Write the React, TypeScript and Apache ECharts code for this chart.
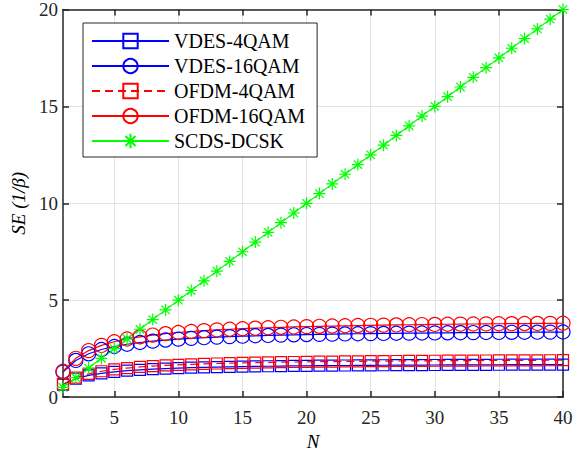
import React, { useEffect, useRef } from "react";
import * as echarts from "echarts";

const N = Array.from({ length: 40 }, (_, i) => i + 1);

const vdes4qam = [0.648, 0.946, 1.117, 1.228, 1.306, 1.364, 1.408, 1.443, 1.472, 1.496, 1.516, 1.533, 1.548, 1.561, 1.572, 1.582, 1.591, 1.599, 1.607, 1.613, 1.619, 1.625, 1.63, 1.634, 1.639, 1.643, 1.647, 1.65, 1.653, 1.656, 1.659, 1.662, 1.664, 1.667, 1.669, 1.671, 1.673, 1.675, 1.677, 1.679];
const vdes16qam = [1.296, 1.892, 2.234, 2.456, 2.612, 2.727, 2.816, 2.887, 2.944, 2.991, 3.031, 3.066, 3.095, 3.121, 3.144, 3.164, 3.182, 3.198, 3.213, 3.226, 3.238, 3.249, 3.259, 3.268, 3.277, 3.285, 3.293, 3.3, 3.306, 3.312, 3.318, 3.323, 3.329, 3.333, 3.338, 3.342, 3.346, 3.35, 3.354, 3.357];
const ofdm4qam = [0.667, 1.0, 1.2, 1.333, 1.429, 1.5, 1.556, 1.6, 1.636, 1.667, 1.692, 1.714, 1.733, 1.75, 1.765, 1.778, 1.789, 1.8, 1.81, 1.818, 1.826, 1.833, 1.84, 1.846, 1.852, 1.857, 1.862, 1.867, 1.871, 1.875, 1.879, 1.882, 1.886, 1.889, 1.892, 1.895, 1.897, 1.9, 1.902, 1.905];
const ofdm16qam = [1.333, 2.0, 2.4, 2.667, 2.857, 3.0, 3.111, 3.2, 3.273, 3.333, 3.385, 3.429, 3.467, 3.5, 3.529, 3.556, 3.579, 3.6, 3.619, 3.636, 3.652, 3.667, 3.68, 3.692, 3.704, 3.714, 3.724, 3.733, 3.742, 3.75, 3.758, 3.765, 3.771, 3.778, 3.784, 3.789, 3.795, 3.8, 3.805, 3.81];
const scdsDcsk = [0.5, 1, 1.5, 2, 2.5, 3, 3.5, 4, 4.5, 5, 5.5, 6, 6.5, 7, 7.5, 8, 8.5, 9, 9.5, 10, 10.5, 11, 11.5, 12, 12.5, 13, 13.5, 14, 14.5, 15, 15.5, 16, 16.5, 17, 17.5, 18, 18.5, 19, 19.5, 20];

const xTicks = [5, 10, 15, 20, 25, 30, 35, 40];

const FONT = "'Liberation Serif', 'Times New Roman', serif";
const AXIS_COLOR = "#262626";
const STAR = "path://M5,0V10M0,5H10M1.5,1.5L8.5,8.5M1.5,8.5L8.5,1.5";

export default function App() {
  const ref = useRef<HTMLDivElement>(null);
  useEffect(() => {
    if (!ref.current) return;
    const chart = echarts.init(ref.current, null, { renderer: "svg" });

    const mk = (
      name: string,
      data: number[],
      color: string,
      symbol: string,
      size: number,
      dashed = false
    ) => ({
      name,
      type: "line",
      data: N.map((n, i) => [n, data[i]]),
      symbol,
      symbolSize: size,
      showAllSymbol: true,
      lineStyle: { color, width: 1.2, type: dashed ? [8, 5] : "solid" },
      itemStyle: { color: "transparent", borderColor: color, borderWidth: 1.2 },
      emphasis: { disabled: true },
    });

    const xBase = {
      type: "value",
      min: 1,
      max: 40,
      axisLine: { show: true, onZero: false, lineStyle: { color: AXIS_COLOR, width: 1.5 } },
      axisTick: { show: true, inside: true, length: 6, customValues: xTicks, lineStyle: { color: AXIS_COLOR, width: 1.5 } },
      splitLine: { show: false },
    };
    const yBase = {
      type: "value",
      min: 0,
      max: 20,
      interval: 5,
      axisLine: { show: true, onZero: false, lineStyle: { color: AXIS_COLOR, width: 1.5 } },
      axisTick: { show: true, inside: true, length: 6, lineStyle: { color: AXIS_COLOR, width: 1.5 } },
      splitLine: { show: false },
    };

    chart.setOption({
      animation: false,
      backgroundColor: "#ffffff",
      textStyle: { fontFamily: FONT },
      grid: { left: 63, right: 20, top: 9, bottom: 53, containLabel: false },
      legend: {
        left: 83,
        top: 23,
        orient: "vertical",
        itemWidth: 77,
        itemHeight: 18,
        itemGap: 5,
        padding: [8, 12, 6, 8],
        backgroundColor: "#ffffff",
        borderColor: AXIS_COLOR,
        borderWidth: 1,
        textStyle: { fontFamily: FONT, fontSize: 20, color: "#000" },
        selectedMode: false,
      },
      xAxis: [
        {
          ...xBase,
          position: "bottom",
          name: "N",
          nameLocation: "middle",
          nameGap: 28,
          nameTextStyle: { fontFamily: FONT, fontSize: 19, fontStyle: "italic", color: "#000" },
          axisLabel: { show: true, customValues: xTicks, margin: 11, fontFamily: FONT, fontSize: 19, color: "#262626" },
          splitLine: { show: true, lineStyle: { color: "#e3e3e3", width: 1 } },
        },
        { ...xBase, position: "top", axisLabel: { show: false } },
      ],
      yAxis: [
        {
          ...yBase,
          position: "left",
          name: "SE (1/β)",
          nameLocation: "middle",
          nameGap: 25,
          nameTextStyle: { fontFamily: FONT, fontSize: 19, fontStyle: "italic", color: "#000" },
          axisLabel: { show: true, margin: 5, fontFamily: FONT, fontSize: 19, color: "#262626" },
          splitLine: { show: true, lineStyle: { color: "#e3e3e3", width: 1 } },
        },
        { ...yBase, position: "right", axisLabel: { show: false } },
      ],
      series: [
        mk("VDES-4QAM", vdes4qam, "#0000ff", "rect", 11),
        mk("VDES-16QAM", vdes16qam, "#0000ff", "circle", 14),
        mk("OFDM-4QAM", ofdm4qam, "#ff0000", "rect", 11, true),
        mk("OFDM-16QAM", ofdm16qam, "#ff0000", "circle", 14),
        mk("SCDS-DCSK", scdsDcsk, "#00ff00", STAR, 12),
      ],
    });
    return () => chart.dispose();
  }, []);
  return <div ref={ref} style={{ width: 583, height: 456, position: "absolute", left: 0, top: 0 }} />;
}
